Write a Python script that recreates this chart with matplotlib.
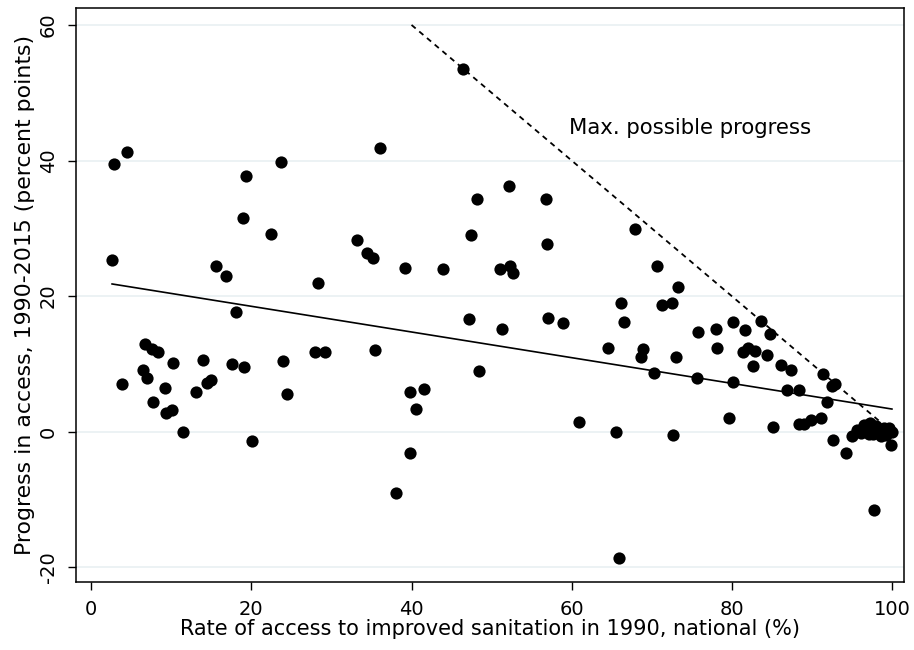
import numpy as np
import matplotlib
matplotlib.use("Agg")
import matplotlib.pyplot as plt

plt.rcParams["font.family"] = ["DejaVu Sans"]
plt.rcParams["axes.unicode_minus"] = False

# Sanitation access in 1990 (%) and change 1990-2015 (percentage points), per country
access_1990 = [
    2.6, 2.9, 4.45, 3.85, 6.7, 7.6, 8.3, 6.45, 6.95, 7.75,
    9.2, 9.3, 10.1, 10.25, 11.5, 13.1, 14.0, 14.45, 14.9, 15.6,
    16.8, 17.55, 18.1, 18.9, 19.1, 19.35, 20.1, 22.4, 23.7, 23.9,
    24.5, 27.9, 28.35, 29.25, 33.2, 34.4, 35.2, 35.5, 36.1, 38.0,
    39.2, 39.8, 39.8, 40.5, 41.6, 43.9, 46.4, 47.15, 47.4, 48.2,
    48.4, 51.0, 51.35, 52.2, 52.3, 52.7, 56.8, 56.9, 57.0, 58.95,
    60.9, 64.5, 65.55, 65.9, 66.1, 66.5, 67.9, 68.6, 68.95, 70.3,
    70.7, 71.25, 72.55, 72.7, 73.0, 73.3, 75.6, 75.8, 78.05, 78.1,
    79.7, 80.1, 80.2, 81.4, 81.7, 82.05, 82.7, 82.85, 83.7, 84.4,
    84.8, 85.2, 86.15, 86.85, 87.4, 88.35, 88.4, 89.0, 89.9, 91.1,
    91.4, 91.9, 92.5, 92.9, 92.6, 94.3, 95.0, 97.75, 95.6, 96.1,
    96.5, 96.9, 97.3, 97.6, 98.0, 98.3, 98.6, 99.0, 99.3, 99.6,
    100.0, 99.85, 98.8, 97.1,
]
progress = [
    25.4, 39.5, 41.3, 7.0, 12.9, 12.2, 11.8, 9.1, 7.9, 4.35,
    6.4, 2.7, 3.25, 10.2, 0.0, 5.9, 10.6, 7.2, 7.6, 24.4,
    22.9, 10.0, 17.7, 31.5, 9.5, 37.7, -1.3, 29.2, 39.8, 10.4,
    5.5, 11.7, 21.9, 11.7, 28.3, 26.3, 25.6, 12.1, 41.8, -9.1,
    24.1, 5.9, -3.1, 3.3, 6.25, 24.0, 53.5, 16.7, 29.0, 34.4,
    9.0, 24.0, 15.1, 36.3, 24.5, 23.4, 34.3, 27.7, 16.8, 16.0,
    1.5, 12.3, -0.05, -18.65, 19.0, 16.2, 29.9, 11.0, 12.2, 8.7,
    24.5, 18.7, 19.0, -0.5, 11.05, 21.4, 8.0, 14.7, 15.2, 12.3,
    2.0, 16.25, 7.35, 11.75, 14.95, 12.35, 9.65, 11.95, 16.35, 11.25,
    14.35, 0.75, 9.8, 6.15, 9.05, 6.15, 1.1, 1.15, 1.7, 2.1,
    8.55, 4.4, 6.7, 7.1, -1.15, -3.2, -0.7, -11.5, 0.3, -0.2,
    1.0, 0.2, 1.3, -0.4, 0.9, 0.1, -0.6, 0.6, -0.5, 0.5,
    0.0, -1.9, 0.3, -0.3,
]

# Linear trend (intercept, slope) in percentage points
fit_intercept = 22.29
fit_slope = -0.1894

x_ticks = [0, 20, 40, 60, 80, 100]
y_ticks = [-20, 0, 20, 40, 60]
ceiling_start = 40  # upper bound y = 100 - x drawn from here to 100

x = np.array(access_1990)
y = np.array(progress)

fig = plt.figure(figsize=(9.14, 6.5), dpi=100)
ax = fig.add_axes([0.0832, 0.1042, 0.9058, 0.8835])

for yt in y_ticks:
    ax.axhline(yt, color="#eaf1f3", lw=1.3, zorder=0)

ax.plot(x, y, "o", color="black", ms=8.8, mec="black", mew=0, zorder=3)

# Trend line across the observed range
xf = np.array([x.min(), x.max()])
ax.plot(xf, fit_intercept + fit_slope * xf, color="black", lw=1.2, zorder=4)

# Maximum attainable progress
xc = np.array([ceiling_start, 100])
ax.plot(xc, 100 - xc, color="black", lw=1.3, ls=(0, (3, 2.6)), zorder=4)
ax.text(59.7, 44.8, "Max. possible progress", fontsize=15.3,
        ha="left", va="center")

ax.set_xlim(-1.9, 101.5)
ax.set_ylim(-22.2, 62.5)
ax.set_xticks(x_ticks)
ax.set_yticks(y_ticks)
ax.tick_params(axis="both", direction="out", length=6, width=1,
               labelsize=14, pad=7)
for lab in ax.get_yticklabels():
    lab.set_rotation(90)
    lab.set_va("center")
for s in ax.spines.values():
    s.set_linewidth(1.1)

ax.set_xlabel("Rate of access to improved sanitation in 1990, national (%)",
              fontsize=15, labelpad=0)
ax.set_ylabel("Progress in access, 1990-2015 (percent points)",
              fontsize=15.8, labelpad=3)

fig.savefig("out.png", dpi=100, facecolor="white")
